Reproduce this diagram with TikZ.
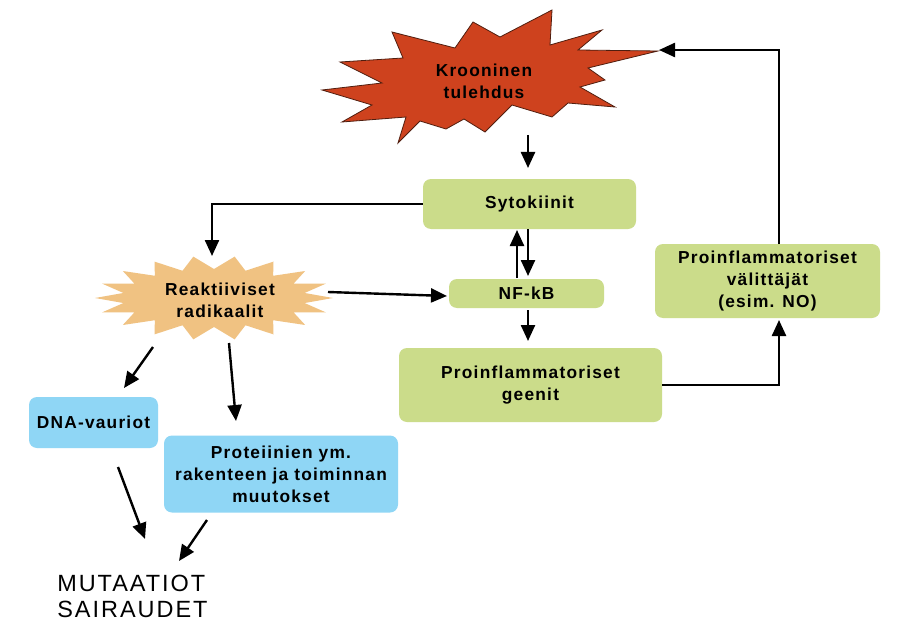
\documentclass[tikz,border=0pt]{standalone}
\usepackage{fontspec}
\setmainfont{Liberation Sans}
\newfontfamily\boxfont{Liberation Sans}[LetterSpace=7]
\newfontfamily\bigfont{Liberation Sans}[LetterSpace=8.5]
\usetikzlibrary{arrows.meta}
\definecolor{boxgreen}{RGB}{203,220,138}
\definecolor{boxblue}{RGB}{143,214,245}
\definecolor{starred}{RGB}{206,66,30}
\definecolor{staredge}{RGB}{80,30,15}
\definecolor{startan}{RGB}{240,194,130}
\begin{document}
\begin{tikzpicture}[x=0.75pt,y=-0.75pt,
  txt/.style={align=center, inner sep=0pt, font=\boxfont\bfseries\fontsize{13}{16.5}\selectfont},
  box/.style={txt, rounded corners=6pt},
  gbox/.style={box, fill=boxgreen},
  bbox/.style={box, fill=boxblue},
  arr/.style={line width=1.8pt, -{Triangle[length=12pt,width=10.5pt]}},
]
\useasboundingbox (0,0) rectangle (906,638);
\fill[white] (0,0) rectangle (906,638);

% red starburst
\filldraw[fill=starred, draw=staredge, line width=0.6pt]
  (322,90) -- (382,83) -- (340,62) -- (403,58) -- (392,32) -- (455,48) --
  (473,22) -- (500,37) -- (552,10) -- (550,45) -- (602,30) -- (578,50) --
  (658,51) -- (588,68) -- (605,80) -- (580,87) -- (615,107) -- (568,103) --
  (552,117) -- (512,105) -- (485,132) -- (464,119) -- (446,129) -- (420,121) --
  (398,143) -- (406,117) -- (342,122) -- (372,105) -- cycle;

% tan starburst
\fill[startan] plot[samples at={0,1,...,35}, variable=\k]
  ({214+ifthenelse(mod(\k,2)==0,119,92)*cos(\k*10)},
   {298+ifthenelse(mod(\k,2)==0,42,29)*sin(\k*10)}) -- cycle;

% labels of the starbursts
\node[txt] (kt) at (484,81) {Krooninen\\tulehdus};
\node[txt] (rr) at (220,300) {Reaktiiviset\\radikaalit};

% boxes
\node[gbox, minimum width=159.75pt, minimum height=37.5pt] (sy) at (529.5,204) {Sytokiinit};
\node[gbox, minimum width=116.25pt, minimum height=21.75pt] (nf) at (526.5,293.5) {NF-kB};
\node[gbox, minimum width=197.25pt, minimum height=55.5pt] (ge) at (530.5,385) {Proinflammatoriset\\geenit};
\node[gbox, minimum width=168.75pt, minimum height=55.5pt] (va) at (767.5,281) {Proinflammatoriset\\välittäjät\\(esim. NO)};
\node[bbox, minimum width=96.75pt, minimum height=38.25pt] (dna) at (93.5,422.5) {DNA-vauriot};
\node[bbox, minimum width=175.5pt, minimum height=57.75pt] (pr) at (281,474) {Proteiinien ym.\\rakenteen ja toiminnan\\muutokset};

\node[anchor=west, align=left, inner sep=0pt,
      font=\bigfont\fontsize{17.6}{19.5}\selectfont] (mut) at (57,596.5) {MUTAATIOT\\SAIRAUDET};

% connector end points
\coordinate (k1) at (528,135);
\coordinate (k2) at (528,168);
\coordinate (rtop) at (212,256);
\coordinate (u1) at (517,278);
\coordinate (u2) at (517,230);
\coordinate (d1) at (528,229);
\coordinate (d2) at (528,276);
\coordinate (r1) at (328,292);
\coordinate (r2) at (447,296);
\coordinate (n1) at (528,310);
\coordinate (n2) at (528,341);
\coordinate (g2) at (779,320);
\coordinate (v1) at (779,244);
\coordinate (kr) at (659,50);
\coordinate (rd1) at (153,347);
\coordinate (rd2) at (124,388);
\coordinate (rp1) at (229,343);
\coordinate (rp2) at (236,421);
\coordinate (dm1) at (118,467);
\coordinate (dm2) at (145,539);
\coordinate (pm1) at (207,520);
\coordinate (pm2) at (179,561);

% connectors
\draw[arr] (k1) -- (k2);
\draw[arr] (sy.west) -| (rtop);
\draw[arr] (u1) -- (u2);
\draw[arr] (d1) -- (d2);
\draw[arr] (r1) -- (r2);
\draw[arr] (n1) -- (n2);
\draw[arr] (ge.east) -| (g2);
\draw[arr] (v1) |- (kr);
\draw[arr] (rd1) -- (rd2);
\draw[arr] (rp1) -- (rp2);
\draw[arr] (dm1) -- (dm2);
\draw[arr] (pm1) -- (pm2);
\end{tikzpicture}
\end{document}
